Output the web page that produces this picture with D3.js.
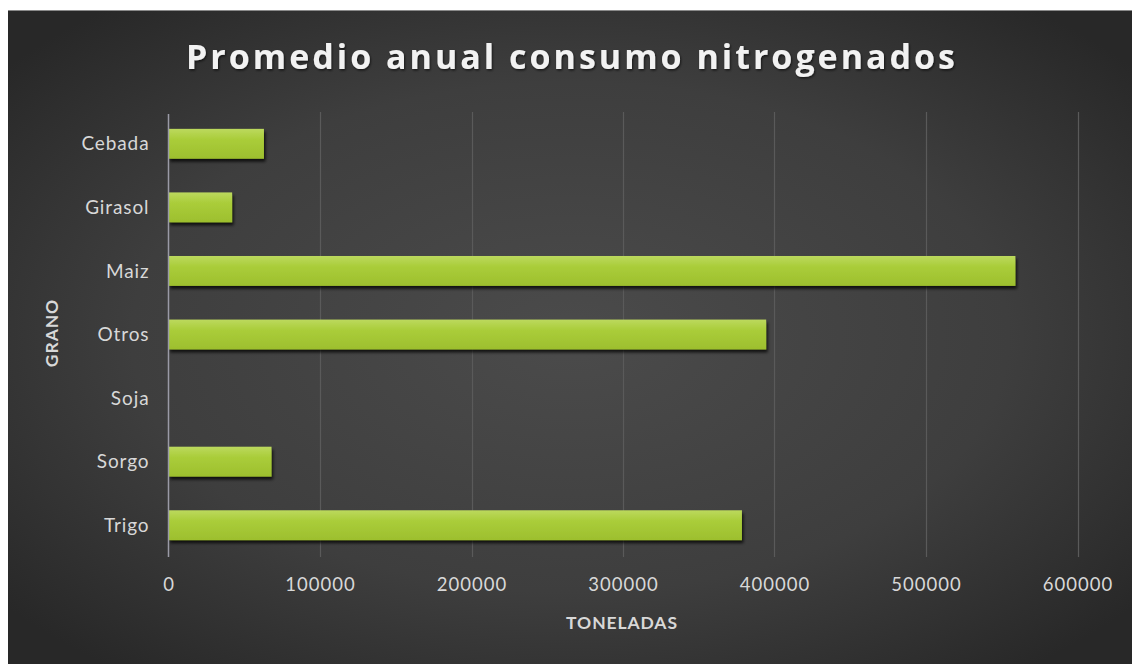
<!DOCTYPE html>
<html>
<head>
<meta charset="utf-8">
<script src="https://cdn.jsdelivr.net/npm/d3@7"></script>
<style>
  html, body { margin: 0; padding: 0; background: #ffffff; }
  svg { display: block; }
</style>
</head>
<body>
<div id="chart"></div>
<script>
// Average annual nitrogen fertiliser use by crop (tonnes)
const categories = ["Cebada", "Girasol", "Maiz", "Otros", "Soja", "Sorgo", "Trigo"];
const values = [63000, 42000, 559000, 394500, 0, 68000, 378500];
const xTicks = [0, 100000, 200000, 300000, 400000, 500000, 600000];
const titleText = "Promedio anual consumo nitrogenados";
const xTitle = "TONELADAS";
const yTitle = "GRANO";

const W = 1132, H = 664;
const panel = { x: 8, y: 10, w: W - 8, h: H - 10 };
const plot = { left: 168.5, right: 1077.5, top: 112, bottom: 557 };
const labelFont = "Lato, 'Open Sans', sans-serif";

const svg = d3.select("#chart").append("svg")
  .attr("width", W).attr("height", H);

const defs = svg.append("defs");

const bg = defs.append("radialGradient")
  .attr("id", "bgGrad")
  .attr("cx", "50%").attr("cy", "50%").attr("r", "65%");
bg.append("stop").attr("offset", "0%").attr("stop-color", "#4b4b4b");
bg.append("stop").attr("offset", "60%").attr("stop-color", "#3e3e3e");
bg.append("stop").attr("offset", "100%").attr("stop-color", "#282828");

const barGrad = defs.append("linearGradient")
  .attr("id", "barGrad").attr("x1", 0).attr("y1", 0).attr("x2", 0).attr("y2", 1);
barGrad.append("stop").attr("offset", "0%").attr("stop-color", "#bcd95e");
barGrad.append("stop").attr("offset", "35%").attr("stop-color", "#aacd3a");
barGrad.append("stop").attr("offset", "100%").attr("stop-color", "#9dbf2e");

const shadow = defs.append("filter").attr("id", "barShadow")
  .attr("x", "-5%").attr("y", "-30%").attr("width", "115%").attr("height", "170%");
shadow.append("feDropShadow")
  .attr("dx", 1.5).attr("dy", 3).attr("stdDeviation", 1.6)
  .attr("flood-color", "#000000").attr("flood-opacity", 0.75);

const textShadow = defs.append("filter").attr("id", "textShadow")
  .attr("x", "-5%").attr("y", "-30%").attr("width", "110%").attr("height", "160%");
textShadow.append("feDropShadow")
  .attr("dx", 1).attr("dy", 1.5).attr("stdDeviation", 1)
  .attr("flood-color", "#000000").attr("flood-opacity", 0.6);

// Dark chart panel
svg.append("rect")
  .attr("x", panel.x).attr("y", panel.y)
  .attr("width", panel.w).attr("height", panel.h)
  .attr("fill", "url(#bgGrad)");
svg.append("line")
  .attr("x1", panel.x).attr("x2", panel.x + panel.w)
  .attr("y1", panel.y + 0.5).attr("y2", panel.y + 0.5)
  .attr("stroke", "#8a8a8a").attr("stroke-width", 1);

const x = d3.scaleLinear().domain([0, 600000]).range([plot.left, plot.right]);
const y = d3.scaleBand().domain(categories).range([plot.top, plot.bottom])
  .paddingInner(0.53).paddingOuter(0.265);

// Vertical gridlines
svg.append("g")
  .selectAll("line")
  .data(xTicks.filter(d => d > 0))
  .join("line")
  .attr("x1", d => Math.round(x(d)) + 0.5).attr("x2", d => Math.round(x(d)) + 0.5)
  .attr("y1", plot.top).attr("y2", plot.bottom)
  .attr("stroke", "#5a5a5a").attr("stroke-width", 1.2);

// Bars
svg.append("g")
  .selectAll("rect")
  .data(categories.map((c, i) => ({ c, v: values[i] })).filter(d => d.v > 0))
  .join("rect")
  .attr("x", x(0))
  .attr("y", d => y(d.c))
  .attr("width", d => x(d.v) - x(0))
  .attr("height", y.bandwidth())
  .attr("fill", "url(#barGrad)")
  .attr("filter", "url(#barShadow)");

// Category axis line
svg.append("line")
  .attr("x1", x(0)).attr("x2", x(0))
  .attr("y1", plot.top + 2).attr("y2", plot.bottom)
  .attr("stroke", "#9a9aa6").attr("stroke-width", 1.5);

// Category labels
const yAxis = d3.axisLeft(y).tickSize(0).tickPadding(19);
const gy = svg.append("g").attr("transform", `translate(${x(0)},0)`).call(yAxis);
gy.select(".domain").remove();
gy.selectAll("text")
  .attr("fill", "#d8d8d8")
  .attr("font-family", labelFont)
  .attr("font-size", 19)
  .attr("letter-spacing", 0.9)
  .attr("dy", "0.35em");

// Value axis labels
const xAxis = d3.axisBottom(x).tickValues(xTicks).tickFormat(d3.format("d")).tickSize(0).tickPadding(21);
const gx = svg.append("g").attr("transform", `translate(0,${plot.bottom})`).call(xAxis);
gx.select(".domain").remove();
gx.selectAll("text")
  .attr("fill", "#d8d8d8")
  .attr("font-family", labelFont)
  .attr("font-size", 18.5)
  .attr("letter-spacing", 1);

// Axis titles
svg.append("text")
  .attr("x", 622).attr("y", 629)
  .attr("text-anchor", "middle")
  .attr("fill", "#d8d8d8")
  .attr("font-family", labelFont)
  .attr("font-weight", "bold")
  .attr("font-size", 17.5)
  .attr("letter-spacing", 0.9)
  .text(xTitle);

svg.append("text")
  .attr("transform", "translate(58,333) rotate(-90)")
  .attr("text-anchor", "middle")
  .attr("fill", "#d8d8d8")
  .attr("font-family", labelFont)
  .attr("font-weight", "bold")
  .attr("font-size", 17.5)
  .attr("letter-spacing", 0.9)
  .text(yTitle);

// Title
svg.append("text")
  .attr("x", 572).attr("y", 69)
  .attr("text-anchor", "middle")
  .attr("fill", "#f2f2f2")
  .attr("font-family", "'Open Sans', 'DejaVu Sans', sans-serif")
  .attr("font-weight", "bold")
  .attr("font-size", 34)
  .attr("letter-spacing", 3)
  .attr("filter", "url(#textShadow)")
  .text(titleText);
</script>
</body>
</html>
